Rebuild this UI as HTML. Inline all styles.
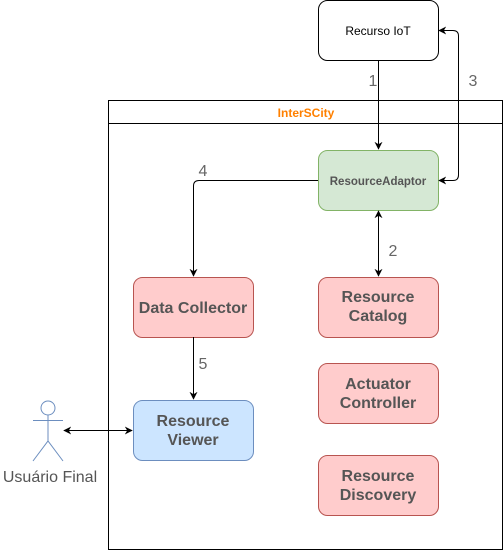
<!DOCTYPE html>
<html><head><style>body{margin:0;background:#fff}svg{display:block}</style></head><body>
<svg width="504" height="551" xmlns="http://www.w3.org/2000/svg" font-family="Liberation Sans, sans-serif">
<defs><marker id="a" viewBox="0 0 10 10" refX="9" refY="5" markerWidth="8" markerHeight="8" orient="auto-start-reverse"><path d="M0,0 L10,5 L0,10 L3,5 Z" fill="#000"/></marker></defs>
<rect x="108.5" y="100.5" width="394" height="449" fill="none" stroke="#000"/>
<line x1="108" y1="123.5" x2="503" y2="123.5" stroke="#000"/>
<text x="306" y="117" text-anchor="middle" font-size="12" font-weight="bold" fill="#FF8000">InterSCity</text>
<rect x="318.5" y="0.5" width="120" height="60" rx="9" fill="#fff" stroke="#000"/>
<text x="378" y="35" text-anchor="middle" font-size="12">Recurso IoT</text>
<rect x="318.5" y="150.5" width="120" height="60" rx="9" fill="#d5e8d4" stroke="#82b366"/>
<text x="378" y="185" text-anchor="middle" font-size="11.5" font-weight="bold" fill="#555">ResourceAdaptor</text>
<g font-size="16" font-weight="bold" fill="#555" text-anchor="middle">
<rect x="318.5" y="277.5" width="120" height="60" rx="9" fill="#ffcccc" stroke="#b85450"/>
<text x="378" y="302">Resource</text><text x="378" y="321">Catalog</text>
<rect x="318.5" y="363.5" width="120" height="60" rx="9" fill="#ffcccc" stroke="#b85450"/>
<text x="378" y="389">Actuator</text><text x="378" y="408">Controller</text>
<rect x="318.5" y="455.5" width="120" height="60" rx="9" fill="#ffcccc" stroke="#b85450"/>
<text x="378" y="481">Resource</text><text x="378" y="500">Discovery</text>
<rect x="133.5" y="277.5" width="120" height="60" rx="9" fill="#ffcccc" stroke="#b85450"/>
<text x="193" y="313">Data Collector</text>
<rect x="133.5" y="400.5" width="120" height="60" rx="9" fill="#cce5ff" stroke="#6c8ebf"/>
<text x="193" y="426">Resource</text><text x="193" y="445">Viewer</text>
</g>
<g stroke="#000" fill="none">
<line x1="378.5" y1="60" x2="378.5" y2="149" marker-end="url(#a)"/>
<path d="M439,30.5 H453 Q458.5,30.5 458.5,36 V175 Q458.5,180.5 453,180.5 H439" marker-start="url(#a)" marker-end="url(#a)"/>
<path d="M318,180.5 H199 Q193.5,180.5 193.5,186 V276" marker-end="url(#a)"/>
<line x1="378.5" y1="211" x2="378.5" y2="276" marker-start="url(#a)" marker-end="url(#a)"/>
<line x1="193.5" y1="337" x2="193.5" y2="399" marker-end="url(#a)"/>
<line x1="64" y1="430.5" x2="132" y2="430.5" marker-start="url(#a)" marker-end="url(#a)"/>
</g>
<g font-size="16" fill="#666" text-anchor="middle">
<text x="373" y="86">1</text><text x="473" y="86">3</text><text x="203" y="176">4</text><text x="393" y="256">2</text><text x="203" y="369">5</text>
</g>
<g stroke="#6c8ebf" fill="#fff">
<circle cx="48" cy="408" r="7"/>
<path d="M48,415 V441 M33,420.5 H63 M33,461 L48,441 L63,461" fill="none"/>
</g>
<text x="50" y="482" text-anchor="middle" font-size="16" fill="#555">Usuário Final</text>
</svg>
</body></html>
